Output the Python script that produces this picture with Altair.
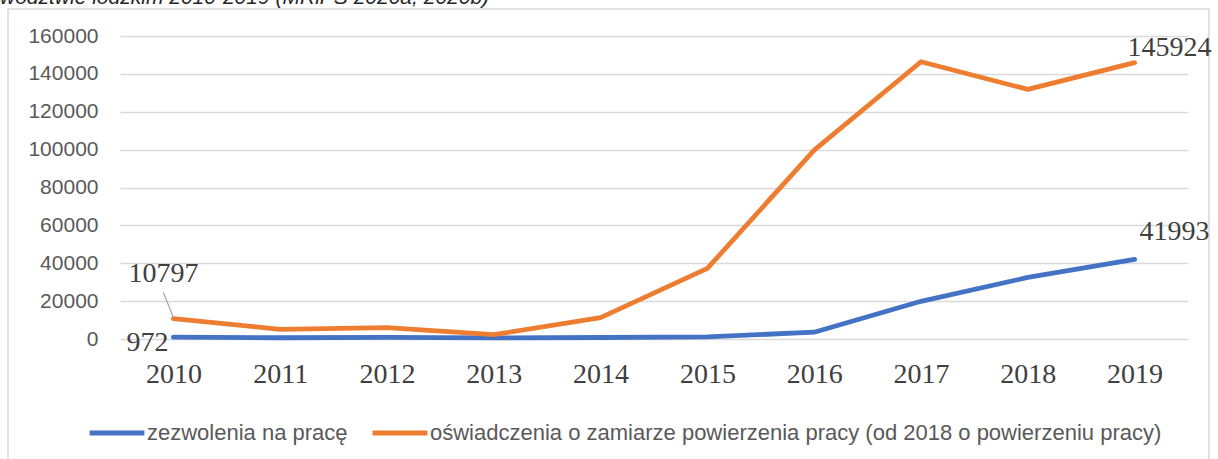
import altair as alt
import pandas as pd

years = [2010, 2011, 2012, 2013, 2014, 2015, 2016, 2017, 2018, 2019]
zezwolenia = [972, 650, 850, 550, 800, 1100, 3600, 19900, 32500, 41993]
oswiadczenia = [10797, 5100, 6000, 2300, 11300, 37300, 99700, 146400, 131800, 145924]
series_names = [
    "zezwolenia na pracę",
    "oświadczenia o zamiarze powierzenia pracy (od 2018 o powierzeniu pracy)",
]
colors = ["#4472C4", "#ED7D31"]
y_ticks = [0, 20000, 40000, 60000, 80000, 100000, 120000, 140000, 160000]
partial_title = "wództwie łódzkim 2010-2019 (MRiPS 2020a, 2020b)"

rows = []
for i, yr in enumerate(years):
    rows.append({"rok": yr, "seria": series_names[0], "wartosc": zezwolenia[i]})
    rows.append({"rok": yr, "seria": series_names[1], "wartosc": oswiadczenia[i]})
df = pd.DataFrame(rows)

xenc = alt.X(
    "rok:Q",
    scale=alt.Scale(domain=[years[0] - 0.5, years[-1] + 0.5], nice=False, zero=False),
    axis=alt.Axis(
        title=None, values=years, format="d", labelAngle=0, ticks=False,
        domain=False, grid=False, labelFlush=False, labelOverlap=False,
        labelFont="Liberation Serif", labelFontSize=28, labelColor="#404040",
        labelPadding=21,
    ),
)
yenc = alt.Y(
    "wartosc:Q",
    scale=alt.Scale(domain=[0, 160000], nice=False),
    axis=alt.Axis(
        title=None, values=y_ticks, format="d", ticks=False, domain=False,
        labelFont="Liberation Sans", labelFontSize=21, labelColor="#595959",
        labelPadding=22, gridColor="#d9d9d9", gridWidth=1.5,
    ),
)

frame = alt.Chart(alt.Data(values=[{}])).mark_rect(
    fillOpacity=0, stroke="#d9d9d9", strokeWidth=1.5
).encode(
    x=alt.value(-112), x2=alt.value(1089), y=alt.value(-27), y2=alt.value(600)
)

title_txt = alt.Chart(alt.Data(values=[{"t": partial_title}])).mark_text(
    align="left", baseline="alphabetic", fontStyle="italic", fontSize=21,
    font="Liberation Sans", color="#262626"
).encode(x=alt.value(-120), y=alt.value(-32), text="t:N")

lines = alt.Chart(df).mark_line(
    strokeWidth=4.8, strokeCap="round", strokeJoin="round"
).encode(
    x=xenc,
    y=yenc,
    color=alt.Color(
        "seria:N",
        scale=alt.Scale(domain=series_names, range=colors),
        sort=series_names,
        legend=alt.Legend(
            title=None, orient="none", legendX=-33, legendY=367,
            direction="horizontal", columns=2, symbolType="stroke",
            symbolSize=3000, symbolStrokeWidth=5, labelFont="Liberation Sans",
            labelFontSize=22, labelColor="#595959", labelOffset=0,
            columnPadding=14, labelLimit=1000,
        ),
    ),
)

def sel(year, s):
    return (alt.datum.rok == year) & (alt.datum.seria == series_names[s])

label_style = dict(font="Liberation Serif", fontSize=28, color="#404040", baseline="middle")

lab_10797 = alt.Chart(df).transform_filter(sel(2010, 1)).mark_text(
    align="center", dx=-10, dy=-45, **label_style
).encode(x=xenc, y=yenc, text=alt.Text("wartosc:Q", format="d"))

leader = alt.Chart(df).transform_filter(sel(2010, 1)).mark_rule(
    color="#a6a6a6", strokeWidth=1.2, xOffset=0, yOffset=-1, x2Offset=-10, y2Offset=-26
).encode(x=xenc, y=yenc, x2=alt.X2("rok:Q"), y2=alt.Y2("wartosc:Q"))

lab_972 = alt.Chart(df).transform_filter(sel(2010, 0)).mark_text(
    align="right", dx=-5, dy=6, **label_style
).encode(x=xenc, y=yenc, text=alt.Text("wartosc:Q", format="d"))

lab_145924 = alt.Chart(df).transform_filter(sel(2019, 1)).mark_text(
    align="center", dx=35, dy=-15, **label_style
).encode(x=xenc, y=yenc, text=alt.Text("wartosc:Q", format="d"))

lab_41993 = alt.Chart(df).transform_filter(sel(2019, 0)).mark_text(
    align="center", dx=40, dy=-27, **label_style
).encode(x=xenc, y=yenc, text=alt.Text("wartosc:Q", format="d"))

chart = alt.layer(
    frame, title_txt, lines, leader, lab_10797, lab_972, lab_145924, lab_41993
).properties(
    width=1068,
    height=303,
    autosize=alt.AutoSizeParams(type="none"),
    padding={"left": 120, "top": 36, "right": 30, "bottom": 120},
    background="white",
).configure_view(stroke=None)

chart.save("out.html", embed_options={"renderer": "svg", "actions": False})
